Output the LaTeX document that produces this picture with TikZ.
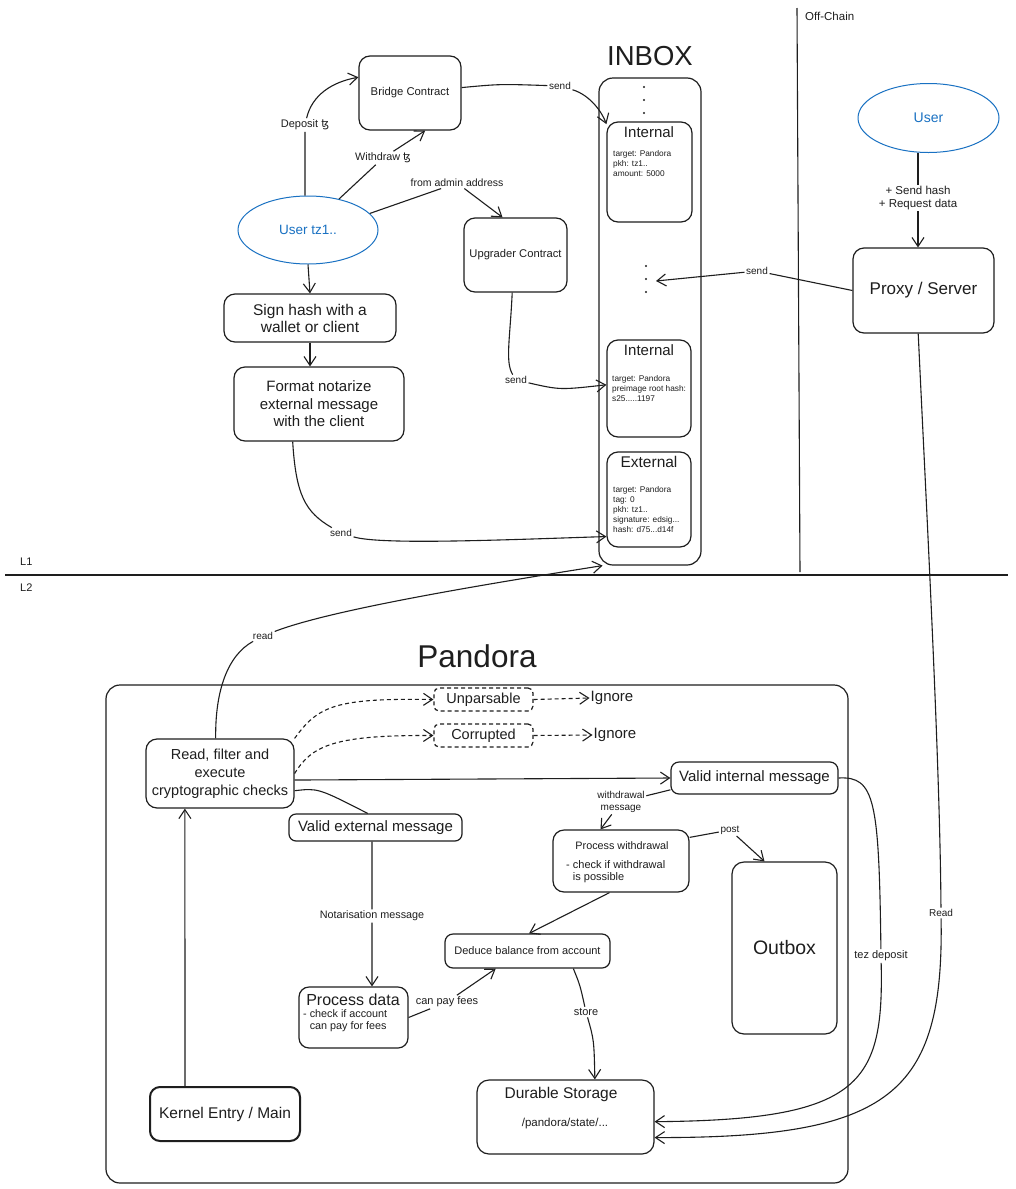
\documentclass[tikz,border=0pt]{standalone}
\usepackage{fontspec}
\setmainfont{Liberation Sans}
\newfontfamily\tezfont{DejaVu Sans}
\usetikzlibrary{arrows.meta,shapes.geometric}
\newcommand{\tzsym}{{\tezfont ꜩ}}
\definecolor{ink}{HTML}{1E1E1E}
\definecolor{ublue}{HTML}{1971C2}
\begin{document}
\begin{tikzpicture}[x=1pt,y=-1pt,
  every node/.style={text=ink},
  box/.style={draw=ink, line width=1.2pt, rounded corners=11pt, align=center, inner sep=0pt},
  ubox/.style={draw=ublue, ellipse, line width=1pt, text=ublue, inner sep=0pt},
  lbl/.style={fill=white, inner sep=1.5pt, font=\fontsize{10.5}{12}\selectfont, align=center},
  arr/.style={draw=ink, line width=1.1pt, -{Straight Barb[length=9pt,width=12pt,line width=1.1pt]}},
  ln/.style={draw=ink, line width=1.1pt},
  dsh/.style={dash pattern=on 4pt off 3pt},
  small/.style={font=\fontsize{8.3}{10}\selectfont, align=left, inner sep=0pt, anchor=north west},
  txt/.style={inner sep=0pt}
]
\fill[white] (0,0) rectangle (1016,1189);
\useasboundingbox (0,0) rectangle (1016,1189);

% dividers
\draw[ln] (797,8) -- (800,572);
\node[txt, anchor=west, font=\fontsize{11.5}{13}\selectfont] (offc) at (805,16) {Off-Chain};
\draw[ln] (5,575) -- (1008,575);
\node[txt, anchor=west, font=\fontsize{11}{13}\selectfont] (l1) at (20,562) {L1};
\node[txt, anchor=west, font=\fontsize{11}{13}\selectfont] (l2) at (20,588) {L2};

% titles
\node[txt, font=\fontsize{27.5}{30}\selectfont] (inboxt) at (650,56) {INBOX};
\node[txt, font=\fontsize{31.5}{34}\selectfont] (pandt) at (477,656) {Pandora};

% L1 nodes
\node[box, minimum width=102pt, minimum height=74pt, font=\fontsize{11.3}{13}\selectfont] (bridge) at (410,93) {Bridge Contract};
\node[ubox, minimum width=140pt, minimum height=68pt, font=\fontsize{13.5}{15}\selectfont] (userL) at (308,230) {User tz1..};
\node[box, minimum width=103pt, minimum height=74pt, font=\fontsize{11.2}{13}\selectfont] (upgr) at (515.5,255) {Upgrader Contract};
\node[box, minimum width=172pt, minimum height=48pt, font=\fontsize{15.5}{17}\selectfont] (sign) at (310,318) {Sign hash with a\\wallet or client};
\node[box, minimum width=170pt, minimum height=74pt, font=\fontsize{15}{17.5}\selectfont] (fmt) at (319,404) {Format notarize\\external message\\with the client};
\node[ubox, minimum width=141pt, minimum height=69pt, font=\fontsize{14}{16}\selectfont] (userR) at (928.5,118) {User};
\node[box, minimum width=141pt, minimum height=85pt, font=\fontsize{17}{19}\selectfont] (proxy) at (923.5,290.5) {Proxy / Server};

% inbox
\node[box, minimum width=102pt, minimum height=487pt, rounded corners=14pt] (inbox) at (650,321.5) {};
\node[box, minimum width=85pt, minimum height=100pt] (int1) at (649.5,172) {};
\node[box, minimum width=84pt, minimum height=97pt] (int2) at (649,388.5) {};
\node[box, minimum width=84pt, minimum height=95pt] (ext) at (649,499.5) {};
\node[txt, font=\fontsize{15}{17}\selectfont] (int1t) at (649,132) {Internal};
\node[small] (int1b) at (613,150) {target: Pandora\\pkh: tz1..\\amount: 5000};
\node[txt, font=\fontsize{15}{17}\selectfont] (int2t) at (649,350) {Internal};
\node[small] (int2b) at (612,375) {target: Pandora\\preimage root hash:\\s25.....1197};
\node[txt, font=\fontsize{15.5}{17}\selectfont] (extt) at (649,462) {External};
\node[small] (extb) at (613,486) {target: Pandora\\tag: 0\\pkh: tz1..\\signature: edsig...\\hash: d75...d14f};
\foreach \yy in {87,100,113} \fill[ink] (644,\yy) circle (1.1pt);
\foreach \yy in {266,279,292} \fill[ink] (646,\yy) circle (1.1pt);
\coordinate (dotsR) at (656,281);

% L1 labels
\node[lbl, font=\fontsize{11}{12}\selectfont] (depl) at (305,125) {Deposit \tzsym};
\node[lbl, font=\fontsize{10.8}{12}\selectfont] (wdl) at (383,158) {Withdraw \tzsym};
\node[lbl] (adml) at (457,183) {from admin address};
\node[lbl, font=\fontsize{10}{12}\selectfont] (sendl1) at (560,86) {send};
\node[lbl, font=\fontsize{10}{12}\selectfont] (sendl2) at (516,380) {send};
\node[lbl, font=\fontsize{10}{12}\selectfont] (sendl3) at (341,533) {send};
\node[lbl, font=\fontsize{11.5}{12.5}\selectfont] (lblR) at (918,198) {+ Send hash\\+ Request data};
\node[lbl, font=\fontsize{10}{12}\selectfont] (sendl4) at (757,271) {send};

% L1 connectors
\draw[arr] (userL.95) -- (depl) .. controls (312,95) and (332,82) .. (bridge.163);
\draw[arr] (userL.45) -- (wdl) -- (bridge.-68);
\draw[arr] (userL.15) -- (adml) -- (upgr.109);
\draw[arr] (bridge.6) .. controls (500,84) .. (sendl1) .. controls (590,95) and (602,112) .. (int1.132);
\draw[arr] (upgr.-95) .. controls (510,340) and (505,362) .. (sendl2) .. controls (560,390) .. (int2.175);
\draw[arr] (userL.south) -- (sign.north);
\draw[arr] (sign.south) -- (sign.south |- fmt.north);
\draw[arr] (fmt.-125) .. controls (296,495) and (305,512) .. (sendl3) .. controls (380,545) and (500,540) .. (ext.-139);
\draw[arr] (lblR |- userR.south) -- (lblR) -- (lblR |- proxy.north);
\draw[arr] (proxy.west) -- (sendl4) -- (dotsR);

% Pandora container
\draw[ln, line width=1.2pt, rounded corners=14pt] (106,685) rectangle (848,1183);

% L2 nodes
\node[box, minimum width=148pt, minimum height=69pt, font=\fontsize{14.5}{18}\selectfont] (readf) at (220,773.5) {Read, filter and\\execute\\cryptographic checks};
\node[box, dsh, rounded corners=5pt, minimum width=99pt, minimum height=23pt, font=\fontsize{14.5}{16}\selectfont] (unpars) at (483.5,699.5) {Unparsable};
\node[box, dsh, rounded corners=5pt, minimum width=99pt, minimum height=23pt, font=\fontsize{14.5}{16}\selectfont] (corr) at (483.5,735.5) {Corrupted};
\node[txt, font=\fontsize{15}{16}\selectfont, inner sep=1pt] (ign1) at (612,698) {Ignore};
\node[txt, font=\fontsize{15}{16}\selectfont, inner sep=1pt] (ign2) at (615,735) {Ignore};
\node[box, rounded corners=8pt, minimum width=167pt, minimum height=32pt, font=\fontsize{15}{16}\selectfont] (validint) at (754.5,778) {Valid internal message};
\node[box, rounded corners=7pt, minimum width=173pt, minimum height=27pt, font=\fontsize{15}{16}\selectfont] (validext) at (375.5,827.5) {Valid external message};
\node[box, minimum width=136pt, minimum height=62pt] (procw) at (621,861) {};
\node[txt, font=\fontsize{10.8}{12}\selectfont] (procwt) at (622,846) {Process withdrawal};
\node[txt, anchor=north west, align=left, font=\fontsize{11}{12}\selectfont] (procwb) at (566,860) {- check if withdrawal\\\phantom{- }is possible};
\node[box, rounded corners=12pt, minimum width=105pt, minimum height=172pt, font=\fontsize{19.5}{21}\selectfont] (outbox) at (784.5,948) {Outbox};
\node[box, rounded corners=8pt, minimum width=165pt, minimum height=34pt, font=\fontsize{11}{12}\selectfont] (deduce) at (527.5,951) {Deduce balance from account};
\node[box, rounded corners=10pt, minimum width=109pt, minimum height=61pt] (procd) at (353.5,1017.5) {};
\node[txt, font=\fontsize{16}{18}\selectfont] (procdt) at (353,1000) {Process data};
\node[txt, anchor=north west, align=left, font=\fontsize{10.8}{12}\selectfont] (procdb) at (303,1009) {- check if account\\\phantom{- }can pay for fees};
\node[box, rounded corners=12pt, minimum width=177pt, minimum height=74pt] (durable) at (565.5,1117) {};
\node[txt, font=\fontsize{15.5}{17}\selectfont] (durt) at (561,1094) {Durable Storage};
\node[txt, font=\fontsize{11.5}{13}\selectfont] (durb) at (565,1124) {/pandora/state/...};
\node[box, line width=2pt, rounded corners=10pt, minimum width=150pt, minimum height=54pt, font=\fontsize{15.5}{17}\selectfont] (kernel) at (225,1114) {Kernel Entry / Main};

% L2 labels
\node[lbl, font=\fontsize{10}{12}\selectfont] (readR) at (941,913) {Read};
\node[lbl, font=\fontsize{11}{12}\selectfont] (tezl) at (881,956) {tez deposit};
\node[lbl, font=\fontsize{10}{12}\selectfont] (readl) at (263,636) {read};
\node[lbl, font=\fontsize{10.8}{12}\selectfont] (notl) at (372,916) {Notarisation message};
\node[lbl, font=\fontsize{11}{12}\selectfont] (payl) at (447,1002) {can pay fees};
\node[lbl, font=\fontsize{10}{12}\selectfont] (wml) at (621,802) {withdrawal\\message};
\node[lbl, font=\fontsize{10}{12}\selectfont] (postl) at (730,830) {post};
\node[lbl, font=\fontsize{11}{12}\selectfont] (storel) at (586,1012) {store};

% L2 connectors
\draw[arr] (readf.97) .. controls (215,690) and (228,655) .. (readl) .. controls (330,610) and (480,585) .. (inbox.-101.8);
\draw[arr, dsh] (readf.north east) .. controls (318,706) and (335,698) .. (unpars.west);
\draw[arr, dsh] (readf.east) .. controls (312,745) and (335,735) .. (corr.west);
\draw[arr, dsh] (unpars.east) -- (ign1.west);
\draw[arr, dsh] (corr.east) -- (ign2.west);
\draw[arr] (readf.-5) -- (validint.west);
\draw[ln] (readf.-13) .. controls (318,788) .. (validext.119);
\draw[arr] (validext.-104) -- (notl) -- (notl |- procd.north);
\draw[arr] (procd.east) -- (payl) -- (deduce.-151);
\draw[arr] (validint.-172) -- (wml) -- (procw.123);
\draw[arr] (procw.-110) -- (deduce.85);
\draw[arr] (procw.19) -- (postl) -- (outbox.103);
\draw[arr] (deduce.-21) .. controls (580,985) .. (storel) .. controls (594,1040) .. (durable.52);
\draw[arr] (kernel.145) -- (readf.-135);
\draw[arr] (validint.east) .. controls (875,776) and (879,800) .. (tezl) .. controls (884,1085) and (860,1120) .. (durable.-3);
\draw[arr] (proxy.-97) .. controls (926,500) and (940,760) .. (readR) .. controls (944,1095) and (890,1138) .. (durable.-13);
\end{tikzpicture}
\end{document}
